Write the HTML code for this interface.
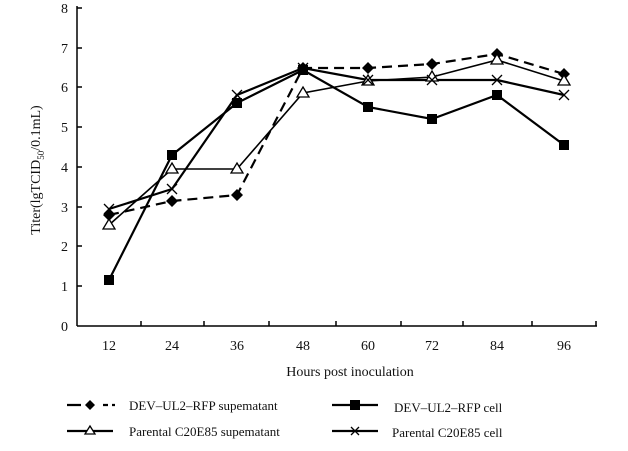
<!DOCTYPE html><html><head><style>body{margin:0;background:#fff}text{font-family:"Liberation Serif",serif;fill:#111}</style></head><body>
<svg width="628" height="446" viewBox="0 0 628 446" xmlns="http://www.w3.org/2000/svg">
<g stroke="#000" stroke-width="1.5" fill="none">
<line x1="77" y1="6" x2="77" y2="326"/><line x1="77" y1="326" x2="597" y2="326"/>
<path d="M77 8h5M77 48h5M77 87h5M77 127h5M77 167h5M77 207h5M77 246h5M77 286h5"/>
<path d="M141 326v-5M204 326v-5M269 326v-5M336 326v-5M401 326v-5M463 326v-5M532 326v-5M596 326v-5"/>
</g>
<g font-size="14" text-anchor="end">
<text x="68" y="13">8</text><text x="68" y="53">7</text><text x="68" y="92">6</text><text x="68" y="132">5</text><text x="68" y="172">4</text><text x="68" y="212">3</text><text x="68" y="251">2</text><text x="68" y="291">1</text><text x="68" y="331">0</text>
</g>
<g font-size="14" text-anchor="middle">
<text x="109" y="350">12</text><text x="172" y="350">24</text><text x="237" y="350">36</text><text x="303" y="350">48</text><text x="368" y="350">60</text><text x="432" y="350">72</text><text x="497" y="350">84</text><text x="564" y="350">96</text>
<text x="350" y="376">Hours post inoculation</text>
</g>
<text transform="translate(40 170) rotate(-90)" font-size="14" text-anchor="middle">Titer(lgTCID<tspan font-size="9" dy="4">50</tspan><tspan dy="-4">/0.1mL)</tspan></text>
<g fill="none" stroke="#000" stroke-width="2.2">
<polyline stroke-dasharray="10,6" points="109,215 172,201 237,195 303,68 368,68 432,64 497,54 564,74"/>
<polyline points="109,280 172,155 237,103 303,70 368,107 432,119 497,95 564,145"/>
<polyline stroke-width="1.6" points="109,225 172,169 237,169 303,93 368,81 432,77 497,60 564,81"/>
<polyline points="109,209 172,189 237,95 303,68 368,80 432,80 497,80 564,95"/>
</g>
<g fill="#000">
<path d="M109 209l6 6-6 6-6-6zM172 195l6 6-6 6-6-6zM237 189l6 6-6 6-6-6zM303 62l6 6-6 6-6-6zM368 62l6 6-6 6-6-6zM432 58l6 6-6 6-6-6zM497 48l6 6-6 6-6-6zM564 68l6 6-6 6-6-6z"/>
<rect x="104" y="275" width="10" height="10"/><rect x="167" y="150" width="10" height="10"/><rect x="232" y="98" width="10" height="10"/><rect x="298" y="65" width="10" height="10"/><rect x="363" y="102" width="10" height="10"/><rect x="427" y="114" width="10" height="10"/><rect x="492" y="90" width="10" height="10"/><rect x="559" y="140" width="10" height="10"/>
</g>
<g fill="#fff" stroke="#000" stroke-width="1.3">
<path d="M109 219l6 10h-12zM172 163l6 10h-12zM237 163l6 10h-12zM303 87l6 10h-12zM368 75l6 10h-12zM432 71l6 10h-12zM497 54l6 10h-12zM564 75l6 10h-12z"/>
</g>
<g stroke="#000" stroke-width="1.3">
<path d="M104 204l10 10M114 204l-10 10M167 184l10 10M177 184l-10 10M232 90l10 10M242 90l-10 10M298 63l10 10M308 63l-10 10M363 75l10 10M373 75l-10 10M427 75l10 10M437 75l-10 10M492 75l10 10M502 75l-10 10M559 90l10 10M569 90l-10 10"/>
</g>
<g stroke="#000" stroke-width="2.2">
<path d="M67 405h14M103 405h5M112 405h3" /><path d="M332 405h46"/><path d="M67 431h46"/><path d="M332 431h46"/>
</g>
<path d="M90 400l5 5-5 5-5-5z"/><rect x="350" y="400" width="10" height="10"/>
<path d="M90 426l5 8h-10z" fill="#fff" stroke="#000" stroke-width="1.3"/>
<path d="M351 427l8 8M359 427l-8 8" stroke="#000" stroke-width="1.3"/>
<g font-size="13">
<text x="129" y="410">DEV–UL2–RFP supematant</text><text x="394" y="412">DEV–UL2–RFP cell</text>
<text x="129" y="436">Parental C20E85  supematant</text><text x="392" y="437">Parental C20E85 cell</text>
</g>
</svg></body></html>
